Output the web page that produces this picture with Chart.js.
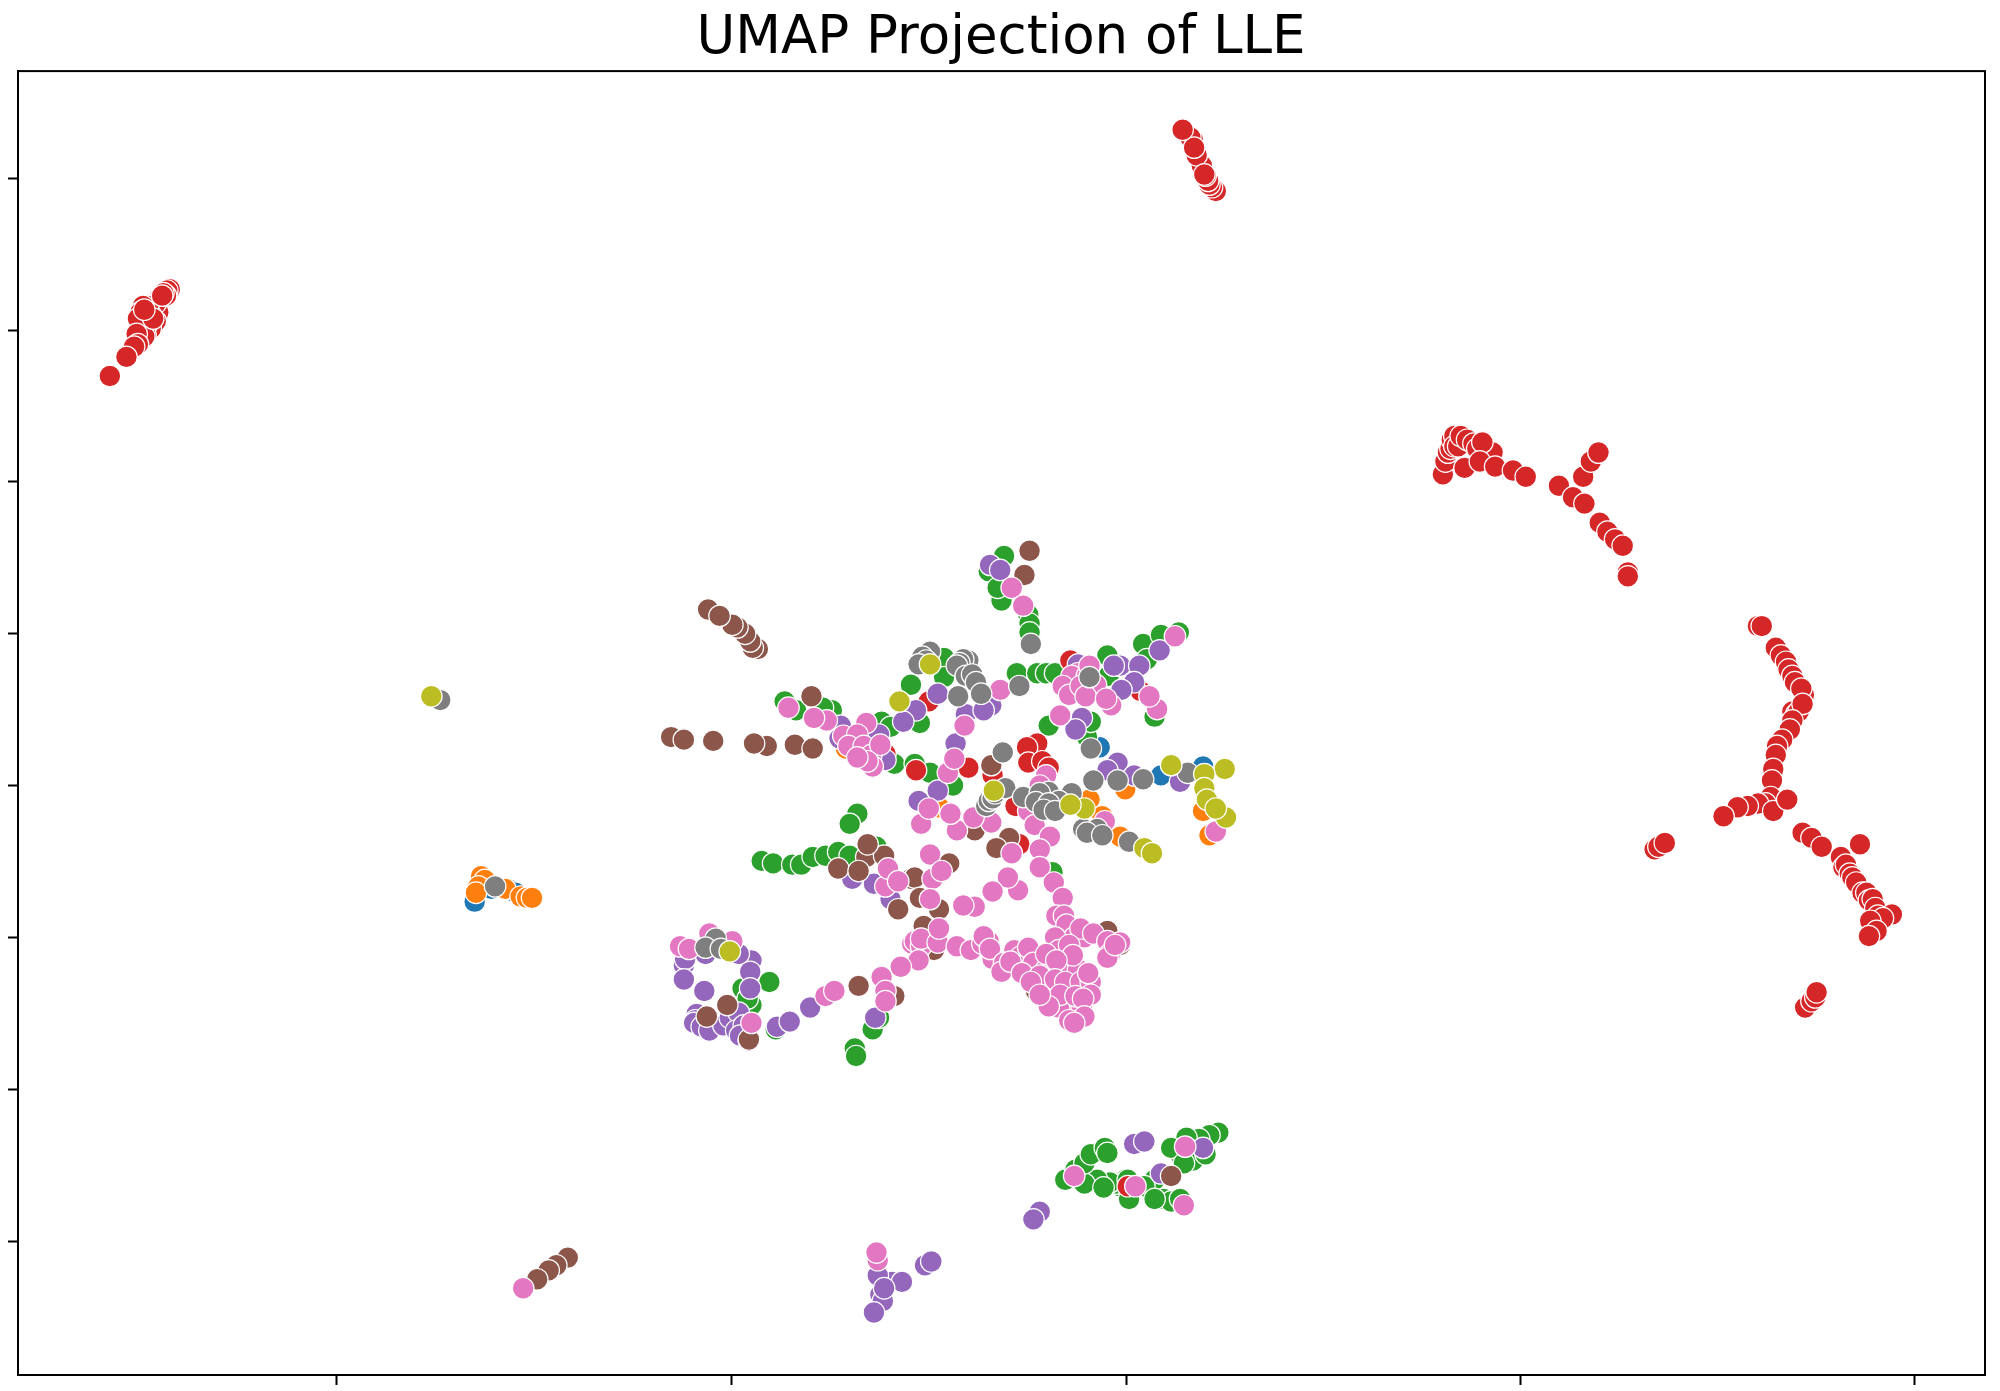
<!DOCTYPE html>
<html>
<head>
<meta charset="utf-8">
<title>UMAP Projection of LLE</title>
<script src="https://cdn.jsdelivr.net/npm/chart.js@4"></script>
<style>
    html, body { margin: 0; padding: 0; background: #fff; }
    canvas { display: block; }
</style>
</head>
<body>
<canvas id="umap-chart" width="2000" height="1391"></canvas>
<script>
// the axes carry no labels, so values are in arbitrary units
const xTicks = [264, 573, 883, 1192, 1501];
const yTicks = [140, 259, 378, 497, 616, 735, 854, 973];
const xRange = [14, 1556];
const yRange = [56, 1078];

const bluePoints = [[862,586],[910,608],[943,601],[372,707],[385,697],[400,698],[404,700]];

const orangePoints = [[854,627],[882,619],[864,640],[878,656],[948,655],[943,636],[736,633],[663,587],
    [377,687],[380,690],[375,695],[373,700],[396,697],[408,703],[413,704],[417,704]];

const greenPoints = [[787,436],[775,448],[785,471],[782,461],[806,482],[807,489],[807,496],[797,528],
    [813,528],[820,528],[827,528],[896,505],[910,498],[924,496],[899,517],[868,514],[869,530],[714,537],
    [740,516],[740,531],[615,550],[624,557],[652,557],[645,555],[691,566],[698,570],[721,567],[701,599],
    [717,599],[729,606],[747,616],[822,569],[852,578],[855,566],[672,638],[666,646],[597,675],[606,677],
    [621,678],[628,678],[637,672],[647,671],[657,668],[666,671],[687,664],[825,684],[905,562],[603,770],
    [589,788],[582,775],[586,783],[608,807],[684,807],[689,798],[670,822],[671,828],
    [955,888],[948,890],[940,893],[930,892],[930,900],[925,905],[935,910],[918,900],[945,905],[928,912],
    [912,940],[918,942],[925,940],[905,925],[882,925],[878,930],[885,940],[875,928],[870,927],[860,925],
    [850,928],[865,931],[835,925],[843,917],[850,912],[855,905],[866,900],[868,904],[884,925],[897,930],[905,940]];

const redPoints = [[953,150],[950,147],[948,145],[947,142],[945,138],[942,130],[938,122],[935,110],[933,108],[944,137],[936,116],[927,102],
    [133,227],[131,228],[130,232],[128,230],[124,245],[124,235],[122,252],[122,238],[118,258],[118,247],[116,240],[115,255],[114,263],[113,264],[112,240],[110,245],
    [108,250],[107,262],[108,270],[105,272],[99,280],[86,295],[120,250],[113,243],[127,232],
    [1131,372],[1133,362],[1135,355],[1137,352],[1138,345],[1140,342],[1140,350],[1143,350],[1145,342],[1150,345],[1155,348],[1158,352],[1168,360],[1165,358],[1165,352],
    [1170,355],[1162,347],[1148,367],[1160,362],[1172,366],[1186,369],[1196,374],[1222,381],[1233,390],[1241,374],[1242,395],[1247,362],
    [1253,355],[1254,410],[1260,417],[1266,423],[1272,428],[1276,449],[1276,452],
    [1378,491],[1381,491],[1392,508],[1396,514],[1400,519],[1402,525],[1405,530],[1407,535],[1414,545],[1412,540],[1405,558],[1408,560],[1410,558],[1413,552],[1405,565],[1403,572],[1397,580],[1393,585],
    [1392,592],[1390,603],[1389,612],[1388,625],[1384,630],[1378,630],[1370,632],[1362,633],[1351,640],[1390,636],[1401,627],[1413,653],
    [1420,657],[1428,664],[1443,672],[1458,662],[1445,680],[1447,678],[1450,685],[1452,688],[1455,692],[1460,700],[1463,700],[1465,706],[1468,705],[1470,712],[1472,718],[1483,717],[1476,720],
    [1466,722],[1471,730],[1465,734],[1297,666],[1300,664],[1305,661],[1415,790],[1420,785],[1423,782],[1424,778],
    [839,518],[728,550],[718,604],[759,602],[778,608],[813,583],[805,586],[806,598],[817,597],[822,602],[796,632],[799,662],[894,542],[694,591],[884,930]];

const purplePoints = [[776,443],[784,447],[878,522],[893,522],[873,522],[909,510],[889,535],[879,541],[848,563],[843,572],[845,521],
    [735,544],[718,557],[708,566],[757,560],[777,553],[771,557],[659,569],[658,579],[689,576],[694,596],[749,583],[735,620],[720,628],
    [876,598],[868,604],[889,608],[925,613],[668,689],[685,693],[698,705],[589,753],[579,748],[588,762],[588,775],[536,757],[537,752],[536,768],
    [552,777],[553,748],[546,795],[545,800],[544,802],[550,805],[556,808],[567,804],[572,798],[579,794],[577,808],[583,804],[580,812],[587,816],[609,805],[619,801],[635,790],[686,798],
    [815,950],[810,956],[889,897],[897,895],[910,920],[943,900],[725,992],[730,989],[699,1005],[707,1005],[690,1015],[692,1020],[685,1029],[688,1000],[693,1010]];

const brownPoints = [[807,432],[803,451],[594,509],[590,508],[588,503],[584,497],[578,492],[574,490],[555,478],[564,483],[526,578],[536,580],[559,581],
    [601,585],[591,583],[623,584],[637,587],[636,546],[777,600],[791,657],[781,665],[679,672],[693,671],[657,681],[673,683],[680,662],
    [714,689],[717,688],[744,677],[721,704],[704,713],[736,713],[724,726],[732,745],[764,651],[868,730],[878,741],[812,777],[673,773],
    [570,788],[554,797],[587,815],[701,781],[445,986],[436,992],[430,996],[421,1003],[918,922]];

const pinkPoints = [[793,461],[802,475],[921,499],[784,541],[845,528],[840,530],[852,530],[833,538],[838,545],[847,538],[859,537],[851,546],[871,553],[867,548],[854,522],
    [907,556],[901,546],[831,561],[756,569],[618,555],[648,565],[638,563],[679,567],[661,577],[672,576],[665,585],[677,585],[683,592],[690,584],[684,601],[680,597],[672,594],
    [743,606],[748,595],[820,608],[815,616],[722,646],[728,634],[750,651],[745,638],[777,645],[763,641],[806,636],[811,647],[823,656],
    [793,669],[815,666],[815,680],[729,670],[731,689],[738,683],[694,695],[696,681],[704,691],[729,705],[798,698],[790,688],[778,699],
    [764,711],[755,710],[826,692],[833,704],[828,718],[834,718],[836,725],[842,735],[850,735],[847,728],[827,735],[830,745],[836,755],[845,760],[838,741],[857,732],
    [715,740],[717,738],[722,742],[722,736],[735,739],[736,728],[750,742],[761,745],[770,740],[775,738],[771,734],[778,752],[776,744],[720,753],[706,758],[691,766],
    [795,745],[787,755],[800,750],[806,743],[785,762],[792,754],[810,755],[801,763],[820,760],[815,765],[808,770],[820,748],[841,749],[828,753],[827,768],[835,770],[847,770],[855,770],[853,763],
    [840,790],[848,790],[855,780],[830,790],[831,780],[822,789],[815,780],[843,781],[849,783],[868,738],[870,748],[878,739],[868,751],[874,741],[850,797],[838,800],[842,802],
    [694,777],[694,785],[647,781],[654,777],[556,732],[574,738],[533,742],[540,744],[589,802],[953,652],[866,644],
    [410,1010],[688,988],[687,982],[842,922],[890,930],[928,945],[929,899]];

const grayPoints = [[808,505],[729,511],[723,515],[726,518],[720,521],[759,518],[755,517],[752,520],[750,522],[757,530],[762,529],[765,535],[769,544],[751,546],[799,538],[854,531],[855,587],
    [786,590],[857,612],[876,612],[896,611],[931,606],[773,632],[775,628],[778,626],[780,622],[788,618],[802,625],[840,622],[822,621],[815,622],[812,629],[830,628],[822,630],
    [818,635],[827,636],[849,650],[860,650],[852,653],[864,655],[885,660],[561,736],[553,743],[565,744],[345,549],[388,695]];

const olivePoints = [[729,521],[705,550],[779,620],[918,600],[960,603],[944,607],[944,618],[946,627],[961,641],[953,634],[850,634],[839,631],
    [897,665],[903,669],[572,746],[338,546]];

// first dataset gets painted last, so olive is on top
const seriesList = [
    { name: 'olive', color: '#bcbd22', points: olivePoints },
    { name: 'gray', color: '#7f7f7f', points: grayPoints },
    { name: 'pink', color: '#e377c2', points: pinkPoints },
    { name: 'brown', color: '#8c564b', points: brownPoints },
    { name: 'purple', color: '#9467bd', points: purplePoints },
    { name: 'red', color: '#d62728', points: redPoints },
    { name: 'green', color: '#2ca02c', points: greenPoints },
    { name: 'orange', color: '#ff7f0e', points: orangePoints },
    { name: 'blue', color: '#1f77b4', points: bluePoints }
];

// Chart.js only draws the left and bottom axis lines, the other two come from here
const frameBox = {
    id: 'frameBox',
    afterDraw(chart) {
        const { ctx, chartArea } = chart;
        ctx.save();
        ctx.strokeStyle = '#000';
        ctx.lineWidth = 2;
        ctx.strokeRect(chartArea.left, chartArea.top, chartArea.right - chartArea.left, chartArea.bottom - chartArea.top);
        ctx.restore();
    }
};

function tickValues(values) {
    return axis => { axis.ticks = values.map(v => ({ value: v })); };
}

const axisGrid = { drawOnChartArea: false, drawTicks: true, tickLength: 10, tickWidth: 2, tickColor: '#000' };
const axisBorder = { display: true, color: '#000', width: 2 };

new Chart(document.getElementById('umap-chart'), {
    type: 'scatter',
    data: {
        datasets: seriesList.map(s => ({
            label: s.name,
            data: s.points.map(p => ({ x: p[0], y: p[1] })),
            backgroundColor: s.color,
            borderColor: '#fff',
            borderWidth: 1.2,
            pointRadius: 10.8
        }))
    },
    plugins: [frameBox],
    options: {
        responsive: false,
        animation: false,
        // equal side padding keeps the title centred over the axes
        layout: { padding: { left: 17, right: 15, bottom: 0 } },
        scales: {
            x: {
                type: 'linear', min: xRange[0], max: xRange[1],
                afterBuildTicks: tickValues(xTicks),
                afterFit: axis => { axis.height = 16; },
                ticks: { display: false },
                grid: axisGrid, border: axisBorder
            },
            y: {
                type: 'linear', min: yRange[0], max: yRange[1], reverse: true,
                afterBuildTicks: tickValues(yTicks),
                afterFit: axis => { axis.width = 1; },
                ticks: { display: false },
                grid: axisGrid, border: axisBorder
            }
        },
        plugins: {
            legend: { display: false },
            tooltip: { enabled: false },
            title: {
                display: true,
                text: 'UMAP Projection of LLE',
                color: '#000',
                font: { family: '"DejaVu Sans"', size: 53, weight: 'normal' },
                padding: { top: 7.5, bottom: 0 }
            }
        }
    }
});
</script>
</body>
</html>
